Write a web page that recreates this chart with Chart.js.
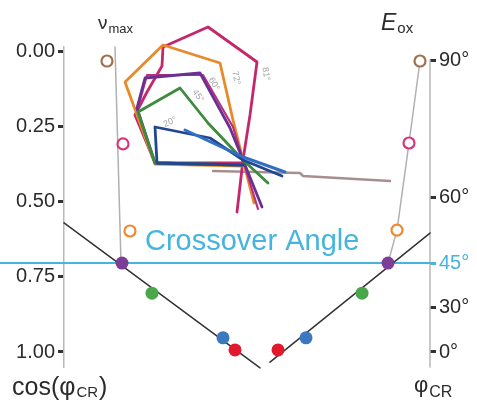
<!DOCTYPE html>
<html>
<head>
<meta charset="utf-8">
<script src="https://cdn.jsdelivr.net/npm/chart.js@4.4.0/dist/chart.umd.min.js"></script>
<style>
  html, body { margin: 0; padding: 0; background: #fff; }
  canvas { display: block; }
</style>
</head>
<body>
<canvas id="chart" width="477" height="400"></canvas>
<script>
// Axis ticks: left is cos(phi_CR), right is phi_CR placed on the same vertical scale
const cosTicks = [0, 0.25, 0.5, 0.75, 1];
const cosTickLabels = ['0.00', '0.25', '0.50', '0.75', '1.00'];
const angleTickPos = [0.028, 0.484, 0.704, 0.853, 1.0];
const angleTickLabels = ['90°', '60°', '45°', '30°', '0°'];
const crossover = 0.704;

// Filled dots on the two fit lines (purple, green, blue, red)
const cosDotX = [58, 88, 159, 171];
const cosDotY = [0.704, 0.804, 0.953, 0.993];
const angleDotX = [324, 298, 242, 214];
const angleDotY = [0.704, 0.804, 0.953, 0.993];

// Open circles: v_max (left) and E_ox (right)
const vmaxX = [43, 59, 66];
const vmaxY = [0.031, 0.307, 0.597];
const eoxX = [356, 345, 333, 324];
const eoxY = [0.031, 0.304, 0.594, 0.704];

// Guide and fit lines
const vmaxGuideX = [51, 57];
const vmaxGuideY = [-0.016, 0.704];
const cosFitX = [0, 196];
const cosFitY = [0.570, 1.053];
const angleFitX = [206, 366];
const angleFitY = [1.034, 0.604];
const crossoverX = [-64, 366];
const rightAxisX = [366, 366];
const rightAxisY = [0.028, 1.05];

// Polar inset traces, origin at the crossing point
const loop81 = [[-6, -52], [0, 0], [7, 45], [14, 98], [-35, 133], [-80, 113], [-81, 94], [-96, 68], [-108, 45], [-88, -3], [0, -3]];
const loop72 = [[11, -43], [0, 0], [-10, 40], [-23, 97], [-80, 115], [-118, 78], [-88, -4], [0, -6]];
const loop66 = [[15, -49], [0, 0], [-10, 33], [-40, 85], [-96, 85], [-104, 56]];
const loop60 = [[19, -47], [0, 0], [-13, 32], [-43, 87], [-98, 82], [-106, 52], [-88, -3], [0, -5]];
const loop45 = [[25, -23], [0, 0], [-35, 37], [-63, 72], [-105, 48], [-88, -3], [0, -5]];
const loop20 = [[39, -16], [0, 0], [-33, 22], [-88, 33], [-86, -3], [0, -5]];
const loop20b = [[42, -12], [0, 3], [-58, 30]];
const baseTail = [[-30, -11], [57, -13], [60, -16], [147, -21]];
const insetLabels = ['20°', '45°', '60°', '72°', '81°'];

const FONT = 'Liberation Sans, Arial, Helvetica, sans-serif';
const SKY = '#45b4de';

const xy = (xs, ys) => xs.map((x, i) => ({ x, y: ys[i] }));
const pts = arr => arr.map(([x, y]) => ({ x, y }));

const lineSet = (data, color, width, axes, order) => ({
  type: 'scatter',
  data,
  showLine: true,
  borderColor: color,
  borderWidth: width,
  pointRadius: 0,
  tension: 0,
  borderJoinStyle: 'round',
  borderCapStyle: 'round',
  clip: false,
  xAxisID: axes === 'inset' ? 'xi' : 'x',
  yAxisID: axes === 'inset' ? 'yi' : 'y',
  order
});

function drawSub(ctx, x, y, main, sub, mainFont, subFont, drop) {
  ctx.font = mainFont;
  ctx.fillText(main, x, y);
  const w = ctx.measureText(main).width;
  ctx.font = subFont;
  ctx.fillText(sub, x + w + 1, y + drop);
  return x + w + 1 + ctx.measureText(sub).width;
}

const annotations = {
  id: 'annotations',
  afterDatasetsDraw(chart) {
    const { ctx, scales } = chart;
    ctx.save();
    ctx.textBaseline = 'alphabetic';
    ctx.textAlign = 'left';
    ctx.fillStyle = '#2b2b2b';

    // column headers
    drawSub(ctx, 98, 29, 'ν', 'max', `19px ${FONT}`, `13px ${FONT}`, 4);
    drawSub(ctx, 381, 30, 'E', 'ox', `italic 23px ${FONT}`, `15px ${FONT}`, 3);

    // bottom captions
    let x = drawSub(ctx, 12, 395, 'cos(φ', 'CR', `25px ${FONT}`, `15px ${FONT}`, 2);
    ctx.font = `25px ${FONT}`;
    ctx.fillText(')', x + 1, 395);
    drawSub(ctx, 414, 392, 'φ', 'CR', `22px ${FONT}`, `16px ${FONT}`, 5);

    // crossover caption
    ctx.fillStyle = SKY;
    ctx.font = `29px ${FONT}`;
    ctx.fillText('Crossover Angle', 145, scales.y.getPixelForValue(crossover) - 13);

    // small angle labels inside the polar inset
    const spots = [[-73, 38, -25], [-45, 64, 55], [-29, 76, 62], [-7, 82, 78], [23, 86, 82]];
    ctx.fillStyle = '#a5a5a5';
    ctx.font = `9px ${FONT}`;
    ctx.textAlign = 'center';
    ctx.textBaseline = 'middle';
    spots.forEach(([ix, iy, rot], i) => {
      ctx.save();
      ctx.translate(scales.xi.getPixelForValue(ix), scales.yi.getPixelForValue(iy));
      ctx.rotate(rot * Math.PI / 180);
      ctx.fillText(insetLabels[i], 0, 0);
      ctx.restore();
    });
    ctx.restore();
  }
};

const dotColors = ['#7b3f97', '#4aa64a', '#3b78c0', '#e2192d'];
const ringColors = ['#a36f4c', '#d8347f', '#ec8a30', 'rgba(0,0,0,0)'];

new Chart(document.getElementById('chart'), {
  type: 'scatter',
  data: {
    datasets: [
      {
        data: xy(cosDotX, cosDotY),
        pointRadius: 6.5, pointBorderWidth: 0,
        pointBackgroundColor: dotColors,
        clip: false, xAxisID: 'x', yAxisID: 'y', order: 0
      },
      {
        data: xy(angleDotX, angleDotY),
        pointRadius: 6.5, pointBorderWidth: 0,
        pointBackgroundColor: dotColors,
        clip: false, xAxisID: 'x', yAxisID: 'y', order: 0
      },
      {
        data: xy(vmaxX, vmaxY),
        pointRadius: 5.5, pointBorderWidth: 2.2,
        pointBorderColor: ringColors, pointBackgroundColor: '#fff',
        clip: false, xAxisID: 'x', yAxisID: 'y', order: 1
      },
      {
        data: xy(eoxX, eoxY).slice(0, 3),
        pointRadius: 5.5, pointBorderWidth: 2.2,
        pointBorderColor: ringColors, pointBackgroundColor: '#fff',
        clip: false, xAxisID: 'x', yAxisID: 'y', order: 1
      },
      lineSet(xy(vmaxGuideX, vmaxGuideY), '#b0b0b0', 1.5, 'main', 5),
      lineSet(xy(eoxX, eoxY), '#b0b0b0', 1.5, 'main', 5),
      lineSet(xy(rightAxisX, rightAxisY), '#b8b8b8', 1.5, 'main', 20),
      lineSet(xy(cosFitX, cosFitY), '#333', 1.5, 'main', 4),
      lineSet(xy(angleFitX, angleFitY), '#333', 1.5, 'main', 4),
      lineSet(xy(crossoverX, [crossover, crossover]), SKY, 2, 'main', 6),
      lineSet(pts(loop20b), '#3070c4', 3, 'inset', 7),
      lineSet(pts(loop20), '#22468f', 2.8, 'inset', 8),
      lineSet(pts(loop45), '#3d8b3d', 2.8, 'inset', 9),
      lineSet(pts(loop60), '#6a3192', 2.8, 'inset', 10),
      lineSet(pts(loop66), '#b8307e', 2.2, 'inset', 11),
      lineSet(pts(loop72), '#e8892a', 2.8, 'inset', 12),
      lineSet(pts(loop81), '#c4286c', 2.8, 'inset', 13),
      lineSet(pts(baseTail), '#a88f8f', 2.5, 'inset', 14)
    ]
  },
  options: {
    responsive: false,
    animation: false,
    layout: { padding: { top: 47, bottom: 33, left: 0, right: 0 } },
    plugins: { legend: { display: false }, tooltip: { enabled: false } },
    scales: {
      x: { type: 'linear', display: false, min: 0, max: 366 },
      xi: { type: 'linear', axis: 'x', position: 'bottom', display: false, min: -179, max: 187 },
      yi: { type: 'linear', axis: 'y', position: 'left', display: false, min: -207, max: 113 },
      y: {
        type: 'linear', position: 'left', reverse: true, min: -0.0157, max: 1.05,
        afterBuildTicks: s => { s.ticks = cosTicks.map(v => ({ value: v })); },
        afterFit: s => { s.width = 64; },
        grid: { drawOnChartArea: false, drawTicks: true, tickLength: 6, tickWidth: 3, tickColor: '#333' },
        border: { display: true, color: '#b8b8b8', width: 1.5 },
        ticks: {
          autoSkip: false, padding: 3, color: '#2b2b2b',
          font: { family: FONT, size: 20 },
          callback: (v, i) => cosTickLabels[i]
        }
      },
      y2: {
        type: 'linear', position: 'right', reverse: true, min: -0.0157, max: 1.05,
        afterBuildTicks: s => { s.ticks = angleTickPos.map(v => ({ value: v })); },
        afterFit: s => { s.width = 47; },
        grid: {
          drawOnChartArea: false, drawTicks: true, tickLength: 6, tickWidth: 3,
          tickColor: c => c.index === 2 ? SKY : '#333'
        },
        border: { display: false },
        ticks: {
          autoSkip: false, padding: 3,
          color: c => c.index === 2 ? SKY : '#2b2b2b',
          font: { family: FONT, size: 20 },
          callback: (v, i) => angleTickLabels[i]
        }
      }
    }
  },
  plugins: [annotations]
});
</script>
</body>
</html>
